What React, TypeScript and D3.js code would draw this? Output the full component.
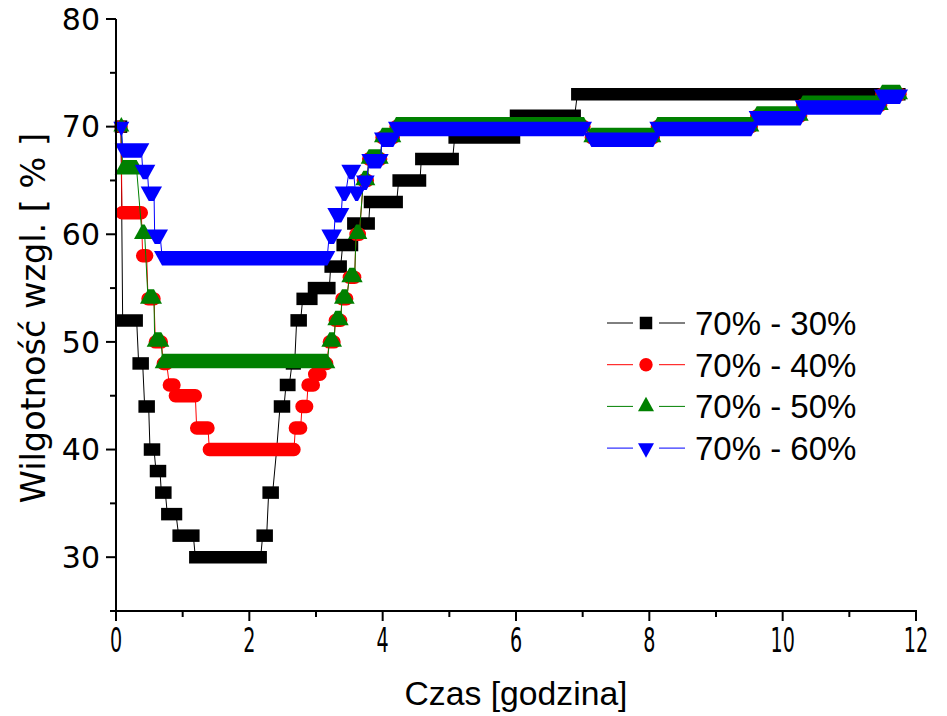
import React from 'react';
import * as d3 from 'd3';

// axis ticks
const xTicks = [0, 2, 4, 6, 8, 10, 12];
const xMinor = [1, 3, 5, 7, 9, 11];
const yTicks = [30, 40, 50, 60, 70, 80];
const yMinor = [25, 35, 45, 55, 65, 75];

const seriesNames = ['70% - 30%', '70% - 40%', '70% - 50%', '70% - 60%'];
const seriesColors = ['#000000', '#ff0000', '#008000', '#0000ff'];
const seriesShapes = ['square', 'circle', 'triUp', 'triDown'];

// time [h] and relative humidity [%]; a plateau is stored as its first and last sample
const t30 = [0.075, 0.1, 0.31, 0.34, 0.4, 0.43, 0.49, 0.51, 0.57, 0.6, 0.66, 0.68, 0.74, 0.77, 0.9, 0.94, 1.16, 1.19, 2.17,
  2.2, 2.26, 2.29, 2.35, 2.41, 2.46, 2.52, 2.55, 2.6, 2.64, 2.68, 2.71, 2.77, 2.8, 2.93, 2.97, 3.2, 3.22, 3.37, 3.4, 3.54,
  3.56, 3.79, 3.81, 4.21, 4.24, 4.56, 4.58, 5.05, 5.08, 5.97, 6.0, 6.88, 6.92, 11.75];
const v30 = [70, 52, 52, 48, 48, 44, 44, 40, 40, 38, 38, 36, 36, 34, 34, 32, 32, 30, 30,
  32, 32, 36, 36, 40, 44, 44, 46, 46, 48, 48, 52, 52, 54, 54, 55, 55, 57, 57, 59, 59,
  61, 61, 63, 63, 65, 65, 67, 67, 69, 69, 71, 71, 73, 73];

const t40 = [0.075, 0.09, 0.38, 0.4, 0.46, 0.48, 0.57, 0.59, 0.68, 0.71, 0.76, 0.8, 0.87, 0.89, 1.19, 1.21, 1.38, 1.4, 2.67,
  2.69, 2.77, 2.79, 2.86, 2.88, 2.96, 2.98, 3.06, 3.09, 3.16, 3.2, 3.27, 3.29, 3.37, 3.39, 3.46, 3.5, 3.58, 3.6, 3.65,
  3.71, 3.77, 3.79, 3.97, 3.99, 4.16, 4.2, 7.02, 7.13, 8.06, 8.12, 9.53, 9.61, 10.27, 10.3, 11.47, 11.49, 11.76];
const v40 = [70, 62, 62, 58, 58, 54, 54, 50, 50, 48, 48, 46, 46, 45, 45, 42, 42, 40, 40,
  42, 42, 44, 44, 46, 46, 47, 47, 48, 48, 50, 50, 52, 52, 54, 54, 56, 56, 60, 60,
  65, 65, 67, 67, 69, 69, 70, 70, 69, 69, 70, 70, 71, 71, 72, 72, 73, 73];

const t50 = [0.08, 0.1, 0.31, 0.39, 0.43, 0.48, 0.57, 0.58, 0.68, 0.7, 3.17, 3.2, 3.27, 3.29, 3.37, 3.39, 3.46, 3.5, 3.58,
  3.6, 3.65, 3.71, 3.77, 3.79, 3.97, 3.99, 4.16, 4.2, 7.02, 7.13, 8.06, 8.12, 9.53, 9.61, 10.27, 10.3, 11.47, 11.49, 11.76];
const v50 = [70, 66, 66, 60, 60, 54, 54, 50, 50, 48, 48, 50, 50, 52, 52, 54, 54, 56, 56,
  60, 60, 65, 65, 67, 67, 69, 69, 70, 70, 69, 69, 70, 70, 71, 71, 72, 72, 73, 73];

const t60 = [0.08, 0.1, 0.38, 0.4, 0.47, 0.49, 0.57, 0.58, 0.66, 0.69, 3.17, 3.2, 3.27, 3.29, 3.38, 3.4, 3.45, 3.5, 3.56,
  3.59, 3.63, 3.72, 3.76, 3.8, 3.97, 3.99, 4.16, 4.2, 7.02, 7.13, 8.06, 8.12, 9.53, 9.61, 10.27, 10.3, 11.47, 11.49, 11.76];
const v60 = [70, 68, 68, 66, 66, 64, 64, 60, 60, 58, 58, 60, 60, 62, 62, 64, 64, 66, 66,
  64, 64, 65, 65, 67, 67, 69, 69, 70, 70, 69, 69, 70, 70, 71, 71, 72, 72, 73, 73];

const seriesT = [t30, t40, t50, t60];
const seriesV = [v30, v40, v50, v60];

const W = 947;
const H = 716;
const x = d3.scaleLinear().domain([0, 12]).range([116, 916]);
const y = d3.scaleLinear().domain([25, 80]).range([611, 19]);

const SQ = 12.5; // square side
const CR = 6.7; // circle radius
const TW = 16; // triangle width
const TH = 14.5; // triangle height

// marker swept from x1 to x2 (dense samples on one level look like a band)
function bandPath(shape: string, x1: number, x2: number, cy: number) {
  const p = d3.path();
  if (shape === 'square') {
    p.rect(x1 - SQ / 2, cy - SQ / 2, x2 - x1 + SQ, SQ);
  } else if (shape === 'circle') {
    p.moveTo(x1, cy - CR);
    p.lineTo(x2, cy - CR);
    p.arc(x2, cy, CR, -Math.PI / 2, Math.PI / 2);
    p.lineTo(x1, cy + CR);
    p.arc(x1, cy, CR, Math.PI / 2, Math.PI * 1.5);
  } else if (shape === 'triUp') {
    p.moveTo(x1, cy - (2 * TH) / 3);
    p.lineTo(x2, cy - (2 * TH) / 3);
    p.lineTo(x2 + TW / 2, cy + TH / 3);
    p.lineTo(x1 - TW / 2, cy + TH / 3);
  } else {
    p.moveTo(x1 - TW / 2, cy - TH / 3);
    p.lineTo(x2 + TW / 2, cy - TH / 3);
    p.lineTo(x2, cy + (2 * TH) / 3);
    p.lineTo(x1, cy + (2 * TH) / 3);
  }
  p.closePath();
  return p.toString();
}

function runs(ts: number[], vs: number[]) {
  const out: { t0: number; t1: number; v: number }[] = [];
  let i = 0;
  while (i < ts.length) {
    let j = i;
    while (j + 1 < ts.length && vs[j + 1] === vs[i]) j++;
    out.push({ t0: ts[i], t1: ts[j], v: vs[i] });
    i = j + 1;
  }
  return out;
}

const Series = ({ k }: { k: number }) => {
  const ts = seriesT[k];
  const vs = seriesV[k];
  const line = d3.line<number>()
    .x((d, i) => x(ts[i]))
    .y(d => y(d));
  return (
    <g>
      <path d={line(vs) || ''} fill="none" stroke={seriesColors[k]} strokeWidth={1} />
      {runs(ts, vs).map((r, i) => (
        <path key={i} d={bandPath(seriesShapes[k], x(r.t0), x(r.t1), y(r.v))} fill={seriesColors[k]} />
      ))}
    </g>
  );
};

export default function App() {
  const axisFont = 'DejaVu Sans, Verdana, sans-serif';
  return (
    <svg width={W} height={H} style={{ position: 'absolute', left: 0, top: 0, background: '#fff' }}>
      {[0, 1, 2, 3].map(k => <Series key={k} k={k} />)}

      {/* left axis */}
      <line x1={116} x2={116} y1={y(80)} y2={y(25) + 1} stroke="#000" strokeWidth={2} />
      {yTicks.map(v => (
        <g key={v}>
          <line x1={106} x2={116} y1={y(v)} y2={y(v)} stroke="#000" strokeWidth={2} />
          <text x={100} y={y(v)} dy="0.36em" textAnchor="end" fontFamily={axisFont} fontSize={30}>{v}</text>
        </g>
      ))}
      {yMinor.map(v => (
        <line key={v} x1={110} x2={116} y1={y(v)} y2={y(v)} stroke="#000" strokeWidth={2} />
      ))}

      {/* bottom axis */}
      <line x1={115} x2={x(12) + 1} y1={611} y2={611} stroke="#000" strokeWidth={2} />
      {xTicks.map(v => (
        <g key={v}>
          <line x1={x(v)} x2={x(v)} y1={611} y2={621} stroke="#000" strokeWidth={2} />
          <text transform={`translate(${x(v)},652) scale(0.58,1)`} textAnchor="middle" fontFamily={axisFont} fontSize={33}>{v}</text>
        </g>
      ))}
      {xMinor.map(v => (
        <line key={v} x1={x(v)} x2={x(v)} y1={611} y2={617} stroke="#000" strokeWidth={2} />
      ))}

      <text x={516} y={705} textAnchor="middle" fontFamily="Liberation Sans, Arial, sans-serif" fontSize={33}
        textLength={223} lengthAdjust="spacingAndGlyphs">Czas [godzina]</text>
      <text transform="translate(45,318) rotate(-90)" textAnchor="middle" fontFamily={axisFont} fontSize={33.5}>
        Wilgotność wzgl. [ % ]
      </text>

      {/* legend */}
      {seriesNames.map((name, k) => {
        const cy = 323 + k * 41.7;
        return (
          <g key={name}>
            <line x1={607} x2={633} y1={cy} y2={cy} stroke={seriesColors[k]} strokeWidth={1} />
            <line x1={659} x2={685} y1={cy} y2={cy} stroke={seriesColors[k]} strokeWidth={1} />
            <path d={bandPath(seriesShapes[k], 646, 646, cy)} fill={seriesColors[k]} />
            <text x={695} y={cy + 12} fontFamily="Liberation Sans, Arial, sans-serif" fontSize={33}>{name}</text>
          </g>
        );
      })}
    </svg>
  );
}
